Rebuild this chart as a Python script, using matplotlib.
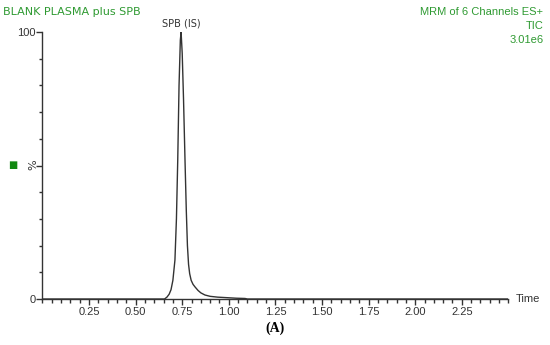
import numpy as np
import matplotlib.pyplot as plt
from matplotlib.ticker import MultipleLocator

# chromatogram (time in min, relative intensity in %)
time = [0.00, 0.60, 0.655, 0.668, 0.680, 0.690, 0.700, 0.711, 0.719, 0.726, 0.733,
        0.740, 0.744, 0.750, 0.757, 0.765, 0.772, 0.778, 0.784, 0.790, 0.798,
        0.808, 0.819, 0.835, 0.850, 0.872, 0.900, 0.940, 0.990, 1.040, 1.087,
        1.100, 2.50]
intensity = [0, 0, 0, 0.7, 1.8, 3.5, 7.0, 14.6, 30, 52, 80,
             97, 100, 92, 75, 52, 33, 20, 13, 9.5, 7.0,
             5.5, 4.5, 3.2, 2.3, 1.5, 1.0, 0.7, 0.5, 0.3, 0.2,
             0, 0]

xticks = [0.25, 0.50, 0.75, 1.00, 1.25, 1.50, 1.75, 2.00, 2.25]
green = '#2f9a32'
dark = '#333333'

fig = plt.figure(figsize=(5.5, 3.45), dpi=100)
ax = fig.add_axes([0.0771, 0.1333, 0.8473, 0.7739])

ax.plot(time, intensity, color=dark, lw=1.0)

ax.set_xlim(0, 2.5)
ax.set_ylim(0, 100)
ax.spines['top'].set_visible(False)
ax.spines['right'].set_visible(False)
for s in ['left', 'bottom']:
    ax.spines[s].set_color(dark)
    ax.spines[s].set_linewidth(1.0)

ax.set_xticks(xticks)
ax.set_xticklabels(['%.2f' % t for t in xticks], family='Liberation Sans', fontsize=8, color=dark)
ax.xaxis.set_minor_locator(MultipleLocator(0.05))
ax.tick_params(axis='x', which='major', length=4, width=1, color=dark, pad=2)
ax.tick_params(axis='x', which='minor', length=3, width=1, color=dark)

ax.set_yticks([0, 50, 100])
ax.set_yticklabels(['0', '', '100'], family='Liberation Sans', fontsize=8, color=dark)
ax.yaxis.set_minor_locator(MultipleLocator(10))
ax.tick_params(axis='y', which='major', length=4, width=1, color=dark, pad=1)
ax.tick_params(axis='y', which='minor', length=2, width=1, color=dark)

fig.text(0.06, 0.522, '%', rotation=90, ha='center', va='center', fontsize=8, color=dark)
fig.text(0.024, 0.522, '\u25a0', ha='center', va='center', fontsize=7, color='#118811')

ax.text(0.744, 101.5, 'SPB (IS)', ha='center', va='bottom', fontsize=7, color=dark)
ax.text(2.54, 0, 'Time', ha='left', va='center', family='Liberation Sans', fontsize=8, color=dark,
        transform=ax.transData, clip_on=False)

fig.text(0.005, 0.965, 'BLANK PLASMA plus SPB', ha='left', va='center', fontsize=8, color=green)
fig.text(0.988, 0.965, 'MRM of 6 Channels ES+', ha='right', va='center',
         family='Liberation Sans', fontsize=8, color=green)
fig.text(0.988, 0.925, 'TIC', ha='right', va='center', family='Liberation Sans', fontsize=8, color=green)
fig.text(0.988, 0.885, '3.01e6', ha='right', va='center', family='Liberation Sans', fontsize=8, color=green)

fig.text(0.5, 0.048, '(A)', ha='center', va='center', family='Liberation Serif',
         fontweight='bold', fontsize=10, color='black')

fig.savefig('out.png', dpi=100)
